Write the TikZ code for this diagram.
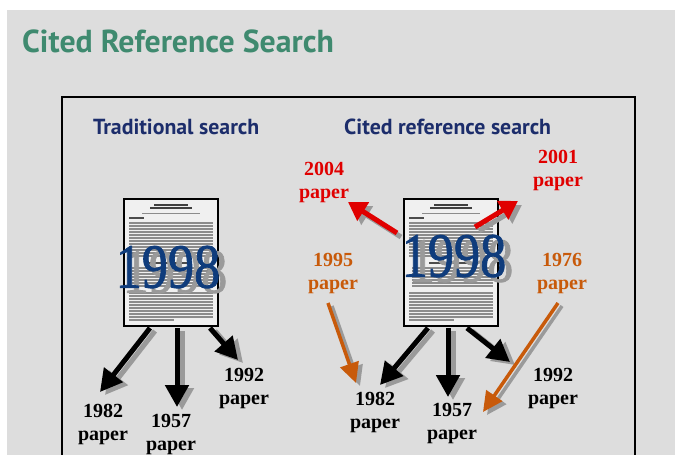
\documentclass[tikz,border=0pt]{standalone}
\usepackage{fontspec}
\setmainfont{Liberation Serif}
\newfontfamily\headfont{PT Sans}
\newfontfamily\yearfont[FakeBold=1.3]{Liberation Serif}
\usetikzlibrary{arrows.meta,calc}
\definecolor{bggray}{HTML}{DDDDDD}
\definecolor{titlegreen}{HTML}{3F8A6F}
\definecolor{navy}{HTML}{1C2D6B}
\definecolor{yearblue}{HTML}{0F3C7C}
\definecolor{citered}{HTML}{E00000}
\definecolor{citeorange}{HTML}{C85A0A}
\definecolor{shadowgray}{HTML}{9A9A9A}
\newcommand\sharrow[4]{%
  \draw[#1,shadowgray] ($(#2)+#4$) -- ($(#3)+#4$);
  \draw[#1] (#2) -- (#3);}
\tikzset{
  blackarrow/.style={line width=5, black, -{Triangle[length=22,width=23]}},
  redarrow/.style={line width=5, citered, -{Triangle[length=18,width=21]}},
  orangearrow/.style={line width=3.5, citeorange, -{Triangle[length=20,width=19]}},
  paperlbl/.style={font=\bfseries\fontsize{20}{23}\selectfont, align=center, inner sep=0pt},
  yearlbl/.style={font=\yearfont\fontsize{63}{63}\selectfont, inner sep=0pt},
  subhead/.style={font=\headfont\bfseries\fontsize{21.8}{24}\selectfont, text=navy, inner sep=0pt, anchor=base west},
  pics/docpage/.style={code={
    \fill[white!94!black] (0,0) rectangle (94,127);
    \draw[black!75, line width=1.3] (30,6) -- (64,6) (26,9) -- (68,9);
    \draw[black!45, line width=1] (18,14) -- (76,14);
    \draw[black!70, line width=1.2] (5,19) -- (20,19);
    \foreach \yy in {24,27,...,57} \draw[black!45, line width=1.1] (5,\yy) -- (89,\yy);
    \draw[black!70, line width=1.3] (25,64) -- (68,64);
    \foreach \yy in {69,72,...,87} \draw[black!45, line width=1.1] (8,\yy) -- (89,\yy);
    \foreach \yy in {94,97,...,118} \draw[black!45, line width=1.1] (5,\yy) -- (89,\yy);
    \draw[black!45, line width=1.1] (5,121) -- (50,121);
    \draw[line width=2.5] (0,0) rectangle (94,127);
  }}
}
\begin{document}
\begin{tikzpicture}[x=1pt,y=-1pt]
\useasboundingbox (0,0) rectangle (675,455);
\fill[white] (0,0) rectangle (675,455);
\fill[bggray] (7,10) rectangle (675,455);
\draw[line width=1.3] (62,460) -- (62,97) -- (635,97) -- (635,460);

\node[font=\headfont\bfseries\fontsize{31.8}{34}\selectfont, text=titlegreen, inner sep=0pt, anchor=base west] (title) at (22,52) {Cited Reference Search};
\node[subhead] (tradhead) at (93,134) {Traditional search};
\node[subhead] (citehead) at (344,134) {Cited reference search};

% documents
\pic at (124,199) {docpage};
\pic at (404,199) {docpage};
\node[minimum width=94, minimum height=127, inner sep=0pt] (docL) at (171,262.5) {};
\node[minimum width=94, minimum height=127, inner sep=0pt] (docR) at (451,262.5) {};

\node[yearlbl, text=shadowgray] (yLs) at (175,272) {\scalebox{0.83}[1]{1998}};
\node[yearlbl, text=yearblue] (yL) at (168,267) {\scalebox{0.83}[1]{1998}};
\node[yearlbl, text=shadowgray] (yRs) at (461,261) {\scalebox{0.83}[1]{1998}};
\node[yearlbl, text=yearblue] (yR) at (454,256) {\scalebox{0.83}[1]{1998}};

% labels left
\node[paperlbl] (p82L) at (103,424) {1982\\paper};
\node[paperlbl] (p57L) at (171,435) {1957\\paper};
\node[paperlbl] (p92L) at (244,389) {1992\\paper};
% labels right
\node[paperlbl] (p82R) at (375,412) {1982\\paper};
\node[paperlbl] (p57R) at (452,424) {1957\\paper};
\node[paperlbl] (p92R) at (553,389) {1992\\paper};
\node[paperlbl, text=citered] (p04) at (324,182) {2004\\paper};
\node[paperlbl, text=citered] (p01) at (558,170) {2001\\paper};
\node[paperlbl, text=citeorange] (p95) at (333,274) {1995\\paper};
\node[paperlbl, text=citeorange] (p76) at (562,274) {1976\\paper};

% arrow coordinates
\coordinate (aL1s) at (150,328); \coordinate (aL1e) at (100,392);
\coordinate (aL2s) at (177,328); \coordinate (aL2e) at (177,407);
\coordinate (aL3s) at (210,328); \coordinate (aL3e) at (238,360);
\coordinate (aR1s) at (428,328); \coordinate (aR1e) at (380,385);
\coordinate (aR2s) at (448,328); \coordinate (aR2e) at (448,397);
\coordinate (aR3s) at (467,328); \coordinate (aR3e) at (510,362);
\coordinate (a95s) at (328,303); \coordinate (a95e) at (356,383);
\coordinate (a76s) at (558,303); \coordinate (a76e) at (483,412);
\coordinate (a04s) at (397,233); \coordinate (a04e) at (348,202);
\coordinate (a01s) at (475,227); \coordinate (a01e) at (518,201);

\sharrow{blackarrow}{aL1s}{aL1e}{(5,3)}
\sharrow{blackarrow}{aL2s}{aL2e}{(5,3)}
\sharrow{blackarrow}{aL3s}{aL3e}{(5,3)}
\sharrow{blackarrow}{aR1s}{aR1e}{(5,3)}
\sharrow{blackarrow}{aR2s}{aR2e}{(5,3)}
\sharrow{blackarrow}{aR3s}{aR3e}{(5,3)}
\sharrow{orangearrow}{a95s}{a95e}{(4,3)}
\sharrow{orangearrow}{a76s}{a76e}{(4,3)}
\sharrow{redarrow}{a04s}{a04e}{(4,4)}
\sharrow{redarrow}{a01s}{a01e}{(4,4)}
\end{tikzpicture}
\end{document}
